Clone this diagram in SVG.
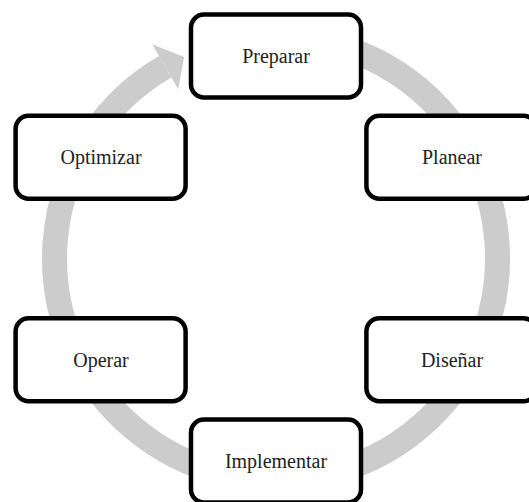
<svg xmlns="http://www.w3.org/2000/svg" width="529" height="502" viewBox="0 0 529 502">
<style>
.box{fill:#fff;stroke:#000;stroke-width:4.5}
.lbl{font-family:"Liberation Serif","Times New Roman",serif;font-size:20px;fill:#222;text-anchor:middle}
.ring{fill:none;stroke:#cccccc;stroke-width:25}
</style>
<rect width="529" height="502" fill="#fff"/>
<g id="connectors">
<path class="ring" d="M 276 37 A 221.5 221.5 0 1 1 165.25 66.7"/>
<polygon points="152.25,44.2 184.1,56.9 178.25,89.2" fill="#cccccc"/>
</g>
<g id="preparar"><rect class="box" x="191" y="14.5" width="170" height="83" rx="13"/><text class="lbl" x="276" y="63">Preparar</text></g>
<g id="planear"><rect class="box" x="366.4" y="115.75" width="170" height="83" rx="13"/><text class="lbl" x="452" y="164">Planear</text></g>
<g id="disenar"><rect class="box" x="366.4" y="318.25" width="170" height="83" rx="13"/><text class="lbl" x="452" y="367">Diseñar</text></g>
<g id="implementar"><rect class="box" x="191" y="419.5" width="170" height="83" rx="13"/><text class="lbl" x="276" y="468">Implementar</text></g>
<g id="operar"><rect class="box" x="15.6" y="318.25" width="170" height="83" rx="13"/><text class="lbl" x="101" y="367">Operar</text></g>
<g id="optimizar"><rect class="box" x="15.6" y="115.75" width="170" height="83" rx="13"/><text class="lbl" x="101" y="164">Optimizar</text></g>
</svg>
